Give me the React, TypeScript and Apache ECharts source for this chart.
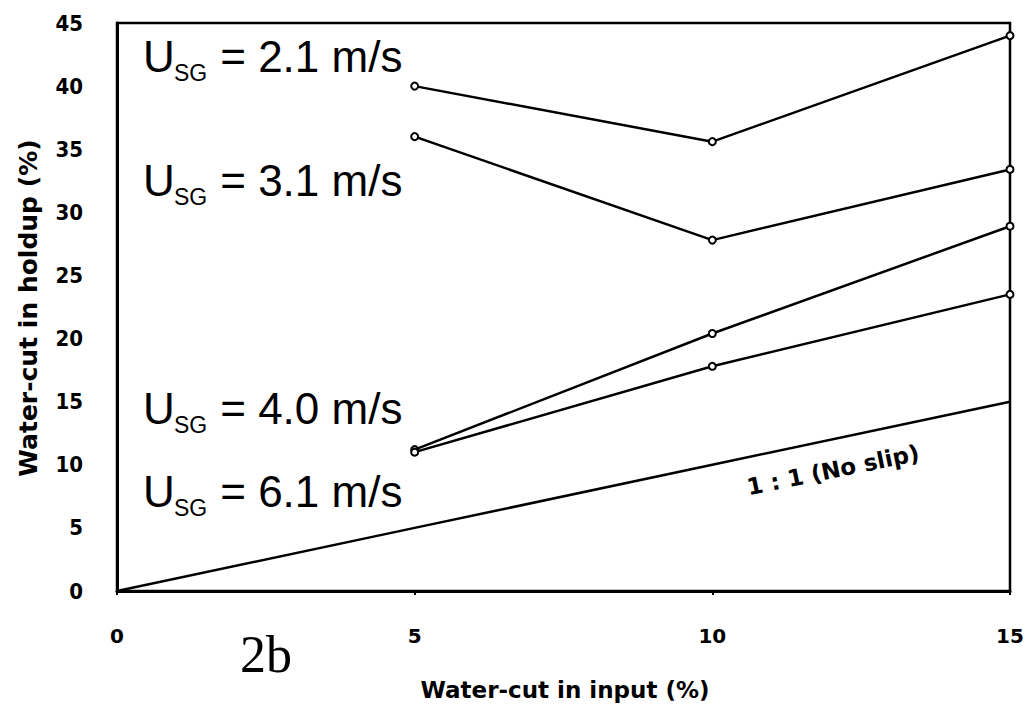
import React, { useEffect, useRef } from "react";
import * as echarts from "echarts";

// Water-cut in input (%) for the measured points
const inputCut = [5, 10, 15];
// Water-cut in holdup (%) at each superficial gas velocity
const holdup21 = [40, 35.6, 44];
const holdup31 = [36, 27.8, 33.4];
const holdup40 = [11.2, 20.4, 28.9];
const holdup61 = [11.0, 17.8, 23.5];
// 1:1 reference (no slip)
const noSlipX = [0, 5, 10, 15];
const noSlipY = [0, 5, 10, 15];

const velocityLabels = ["2.1", "3.1", "4.0", "6.1"];
const xTicks = [0, 5, 10, 15];

const pairs = (xs: number[], ys: number[]) => xs.map((x, i) => [x, ys[i]]);

const labelFont = "'Liberation Sans', Arial, sans-serif";
const boldFont = "'DejaVu Sans', sans-serif";

function usgLabel(value: string, left: number, cy: number) {
  return {
    type: "group",
    children: [
      {
        type: "text",
        x: left,
        y: cy,
        style: { text: "U", font: `44px ${labelFont}`, fill: "#000", verticalAlign: "middle", align: "left" },
      },
      {
        type: "text",
        x: left + 31,
        y: cy + 17,
        style: { text: "SG", font: `23px ${labelFont}`, fill: "#000", verticalAlign: "middle", align: "left" },
      },
      {
        type: "text",
        x: left + 65,
        y: cy,
        style: { text: ` = ${value} m/s`, font: `44px ${labelFont}`, fill: "#000", verticalAlign: "middle", align: "left" },
      },
    ],
  };
}

export default function App() {
  const ref = useRef<HTMLDivElement>(null);

  useEffect(() => {
    if (!ref.current) return;
    const chart = echarts.init(ref.current, null, { renderer: "svg" });

    const lineSeries = (data: number[][], marker: boolean) => ({
      type: "line",
      data,
      symbol: marker ? "emptyCircle" : "none",
      symbolSize: 7,
      showSymbol: marker,
      lineStyle: { color: "#000", width: 2.5 },
      itemStyle: { color: "#000", borderColor: "#000", borderWidth: 1.5 },
      z: marker ? 3 : 2,
    });

    chart.setOption({
      animation: false,
      backgroundColor: "#fff",
      grid: { left: 117, right: 24, top: 23, bottom: 114, show: true, borderColor: "#000", borderWidth: 2.5 },
      xAxis: {
        type: "value",
        min: 0,
        max: 15,
        interval: 5,
        splitLine: { show: false },
        axisLine: { show: true, lineStyle: { color: "#000", width: 3 } },
        axisTick: { show: true, length: 4, lineStyle: { color: "#000", width: 2 } },
        axisLabel: {
          margin: 35,
          color: "#000",
          fontFamily: boldFont,
          fontWeight: "bold",
          fontSize: 20,
          formatter: (v: number) => (xTicks.includes(v) ? String(v) : ""),
        },
      },
      yAxis: {
        type: "value",
        min: 0,
        max: 45,
        interval: 5,
        splitLine: { show: false },
        axisLine: { show: true, lineStyle: { color: "#000", width: 3 } },
        axisTick: { show: false },
        axisLabel: {
          margin: 34,
          color: "#000",
          fontFamily: "'Liberation Sans Narrow', 'DejaVu Sans Condensed', sans-serif",
          fontWeight: "bold",
          fontSize: 22,
        },
      },
      series: [
        lineSeries(pairs(noSlipX, noSlipY), false),
        lineSeries(pairs(inputCut, holdup21), true),
        lineSeries(pairs(inputCut, holdup31), true),
        lineSeries(pairs(inputCut, holdup40), true),
        lineSeries(pairs(inputCut, holdup61), true),
      ],
      graphic: [
        usgLabel(velocityLabels[0], 143, 56),
        usgLabel(velocityLabels[1], 143, 180),
        usgLabel(velocityLabels[2], 143, 408),
        usgLabel(velocityLabels[3], 143, 491),
        {
          type: "text",
          x: 833,
          y: 470,
          rotation: 0.2,
          style: {
            text: "1 : 1 (No slip)",
            font: `bold 23px ${boldFont}`,
            fill: "#000",
            align: "center",
            verticalAlign: "middle",
          },
        },
        {
          type: "text",
          x: 266,
          y: 654,
          style: {
            text: "2b",
            font: "52px 'Liberation Serif', 'Times New Roman', serif",
            fill: "#000",
            align: "center",
            verticalAlign: "middle",
          },
        },
        {
          type: "text",
          x: 565,
          y: 690,
          style: {
            text: "Water-cut in input (%)",
            font: `bold 23px ${boldFont}`,
            fill: "#000",
            align: "center",
            verticalAlign: "middle",
          },
        },
        {
          type: "text",
          x: 28,
          y: 308,
          rotation: Math.PI / 2,
          style: {
            text: "Water-cut in holdup (%)",
            font: `bold 25px ${boldFont}`,
            fill: "#000",
            align: "center",
            verticalAlign: "middle",
          },
        },
      ],
    });

    return () => chart.dispose();
  }, []);

  return <div ref={ref} style={{ width: 1034, height: 705, position: "absolute", left: 0, top: 0 }} />;
}
